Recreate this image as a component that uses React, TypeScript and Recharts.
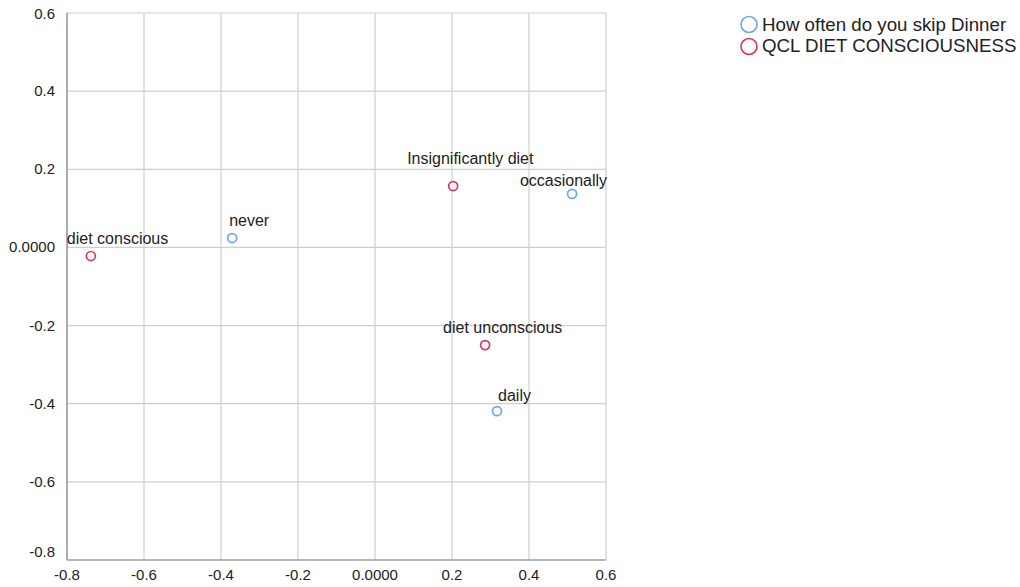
// Correspondence plot: row and column points for skip-dinner vs diet consciousness.
import { CartesianGrid, Scatter, ScatterChart, XAxis, YAxis } from 'recharts';

const dinnerLabels = ['never', 'occasionally', 'daily'];
const dinnerX = [-0.371, 0.512, 0.317];
const dinnerY = [0.024, 0.137, -0.419];

const dietLabels = ['diet conscious', 'Insignificantly diet', 'diet unconscious'];
const dietX = [-0.738, 0.203, 0.286];
const dietY = [-0.022, 0.157, -0.25];

const axisTicks = [-0.8, -0.6, -0.4, -0.2, 0, 0.2, 0.4, 0.6];

const seriesNames = ['How often do you skip Dinner', 'QCL DIET CONSCIOUSNESS'];
const BLUE = '#6fa6e6';
const RED = '#e0325a';
const FONT = 'Arial, "Liberation Sans", sans-serif';

// label placement relative to the marker (dx from centre, dy to baseline)
const labelOffset: Record<string, { dx: number; dy: number; anchor: 'start' | 'middle' | 'end' }> = {
  never: { dx: -3, dy: -12, anchor: 'start' },
  occasionally: { dx: 35, dy: -8, anchor: 'end' },
  daily: { dx: 1, dy: -10, anchor: 'start' },
  'diet conscious': { dx: -24, dy: -12, anchor: 'start' },
  'Insignificantly diet': { dx: -46, dy: -22, anchor: 'start' },
  'diet unconscious': { dx: -42, dy: -12, anchor: 'start' },
};

const dinnerData = dinnerLabels.map((name, i) => ({ name, x: dinnerX[i], y: dinnerY[i] }));
const dietData = dietLabels.map((name, i) => ({ name, x: dietX[i], y: dietY[i] }));

const fmt = (v: number) => (v === 0 ? '0.0000' : v.toFixed(1));

function makeShape(color: string) {
  return (props: any) => {
    const { cx, cy, payload } = props;
    const off = labelOffset[payload.name] ?? { dx: 0, dy: -12, anchor: 'middle' };
    return (
      <g>
        <circle cx={cx} cy={cy} r={4.5} fill="#fff" stroke={color} strokeWidth={1.7} />
        <text
          x={cx + off.dx}
          y={cy + off.dy}
          textAnchor={off.anchor}
          fontSize={16}
          fontFamily={FONT}
          fill="#222"
        >
          {payload.name}
        </text>
      </g>
    );
  };
}

function YTick(props: any) {
  const { x, y, payload } = props;
  const lift = payload.value === -0.8 ? -8 : payload.value === 0.6 ? 1 : 0;
  return (
    <text x={x} y={y + lift} dy={5} textAnchor="end" fontSize={15} fontFamily={FONT} fill="#222">
      {fmt(payload.value)}
    </text>
  );
}

function LegendBox() {
  const colors = [BLUE, RED];
  return (
    <div
      style={{
        position: 'absolute',
        left: 740,
        top: 14,
        fontFamily: FONT,
        fontSize: 18.7,
        color: '#222',
        whiteSpace: 'nowrap',
      }}
    >
      {seriesNames.map((n, i) => (
        <div key={n} style={{ display: 'flex', alignItems: 'center', height: 21.5 }}>
          <svg width={22} height={21.5}>
            <circle cx={9} cy={10.5} r={8} fill="none" stroke={colors[i]} strokeWidth={1.6} />
          </svg>
          <span>{n}</span>
        </div>
      ))}
    </div>
  );
}

export default function App() {
  return (
    <div style={{ position: 'fixed', left: 0, top: 0, width: 1020, height: 587, background: '#fff' }}>
      <ScatterChart width={1020} height={587} margin={{ top: 13, right: 414, bottom: 0, left: 0 }}>
        <CartesianGrid stroke="#cfcfcf" strokeWidth={1.2} />
        <XAxis
          type="number"
          dataKey="x"
          domain={[-0.8, 0.6]}
          ticks={axisTicks}
          tickFormatter={fmt}
          height={27}
          tick={{ fontSize: 15, fontFamily: FONT, fill: '#222' }}
          tickLine={false}
          axisLine={{ stroke: '#888', strokeWidth: 1.2 }}
          tickMargin={3}
        />
        <YAxis
          type="number"
          dataKey="y"
          domain={[-0.8, 0.6]}
          ticks={axisTicks}
          width={67}
          tick={<YTick />}
          tickLine={false}
          axisLine={{ stroke: '#888', strokeWidth: 1.2 }}
          tickMargin={6}
        />
        <Scatter
          name={seriesNames[0]}
          data={dinnerData}
          fill={BLUE}
          shape={makeShape(BLUE)}
          isAnimationActive={false}
        />
        <Scatter
          name={seriesNames[1]}
          data={dietData}
          fill={RED}
          shape={makeShape(RED)}
          isAnimationActive={false}
        />
      </ScatterChart>
      <LegendBox />
    </div>
  );
}
